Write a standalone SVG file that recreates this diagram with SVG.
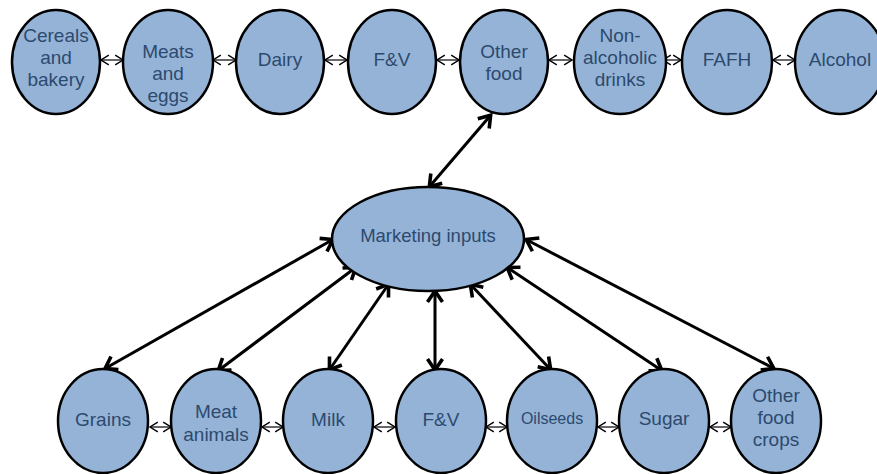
<svg xmlns="http://www.w3.org/2000/svg" width="877" height="474" viewBox="0 0 877 474">
<style>
.n{fill:#95b3d7;stroke:#000;stroke-width:2.5}
.t{font-family:"Liberation Sans",Arial,sans-serif;font-size:19px;fill:#2c4a6e;text-anchor:middle}
.big{stroke:#000;stroke-width:3;fill:none;marker-start:url(#ah);marker-end:url(#ah)}
.sm{stroke:#000;stroke-width:1.2;fill:none;marker-start:url(#as);marker-end:url(#as)}
</style>
<defs>
<marker id="ah" markerUnits="userSpaceOnUse" markerWidth="22" markerHeight="22" viewBox="-14 -11 16 22" refX="-1" refY="0" orient="auto-start-reverse">
<path d="M-11,-7.5 L0,0 L-11,7.5" fill="none" stroke="#000" stroke-width="3.6"/>
</marker>
<marker id="as" markerUnits="userSpaceOnUse" markerWidth="12" markerHeight="12" viewBox="-8 -5 9 10" refX="0" refY="0" orient="auto-start-reverse">
<path d="M-6.5,-4 L0,0 L-6.5,4" fill="none" stroke="#000" stroke-width="1.2"/>
</marker>
</defs>
<g id="connectors">
<line class="sm" x1="101" y1="60" x2="123" y2="60"/>
<line class="sm" x1="213" y1="60" x2="236" y2="60"/>
<line class="sm" x1="325" y1="60" x2="347" y2="60"/>
<line class="sm" x1="437" y1="60" x2="459" y2="60"/>
<line class="sm" x1="549" y1="60" x2="572" y2="60"/>
<line class="sm" x1="663" y1="60" x2="681" y2="60"/>
<line class="sm" x1="773" y1="60" x2="795" y2="60"/>
<line class="sm" x1="150" y1="427" x2="171" y2="427"/>
<line class="sm" x1="262" y1="427" x2="283" y2="427"/>
<line class="sm" x1="374" y1="427" x2="395" y2="427"/>
<line class="sm" x1="486" y1="427" x2="507" y2="427"/>
<line class="sm" x1="598" y1="427" x2="619" y2="427"/>
<line class="sm" x1="710" y1="427" x2="731" y2="427"/>
<line class="big" x1="490" y1="116" x2="430" y2="186"/>
<line class="big" x1="332" y1="240" x2="106" y2="368"/>
<line class="big" x1="355" y1="268" x2="219" y2="370"/>
<line class="big" x1="388" y1="285" x2="330" y2="369"/>
<line class="big" x1="435" y1="292" x2="435" y2="369"/>
<line class="big" x1="471" y1="285" x2="550" y2="369"/>
<line class="big" x1="508" y1="268" x2="661" y2="370"/>
<line class="big" x1="527" y1="240" x2="773" y2="368"/>
</g>
<g id="cereals"><ellipse class="n" cx="56" cy="62" rx="44" ry="52"/><text class="t" x="56" y="42">Cereals</text><text class="t" x="56" y="64">and</text><text class="t" x="56" y="86">bakery</text></g>
<g id="meats"><ellipse class="n" cx="168" cy="62" rx="45" ry="52"/><text class="t" x="168" y="58">Meats</text><text class="t" x="168" y="80">and</text><text class="t" x="168" y="102">eggs</text></g>
<g id="dairy"><ellipse class="n" cx="280" cy="62" rx="44" ry="52"/><text class="t" x="280" y="66">Dairy</text></g>
<g id="fv-top"><ellipse class="n" cx="392" cy="62" rx="44" ry="52"/><text class="t" x="392" y="66">F&amp;V</text></g>
<g id="otherfood"><ellipse class="n" cx="504" cy="62" rx="44" ry="52"/><text class="t" x="504" y="58">Other</text><text class="t" x="504" y="80">food</text></g>
<g id="nonalc"><ellipse class="n" cx="620" cy="62" rx="46" ry="52"/><text class="t" x="620" y="42">Non-</text><text class="t" x="620" y="64">alcoholic</text><text class="t" x="620" y="86">drinks</text></g>
<g id="fafh"><ellipse class="n" cx="727" cy="62" rx="45" ry="52"/><text class="t" x="727" y="66">FAFH</text></g>
<g id="alcohol"><ellipse class="n" cx="840" cy="62" rx="45" ry="52"/><text class="t" x="840" y="66">Alcohol</text></g>
<g id="marketing"><ellipse class="n" cx="428" cy="239" rx="96" ry="52"/><text class="t" x="428" y="242" style="font-size:18.5px">Marketing inputs</text></g>
<g id="grains"><ellipse class="n" cx="103" cy="421" rx="45" ry="52"/><text class="t" x="103" y="426">Grains</text></g>
<g id="meatanimals"><ellipse class="n" cx="216" cy="421" rx="45" ry="52"/><text class="t" x="216" y="418">Meat</text><text class="t" x="216" y="441">animals</text></g>
<g id="milk"><ellipse class="n" cx="328" cy="421" rx="45" ry="52"/><text class="t" x="328" y="426">Milk</text></g>
<g id="fv-bottom"><ellipse class="n" cx="441" cy="421" rx="45" ry="52"/><text class="t" x="441" y="426">F&amp;V</text></g>
<g id="oilseeds"><ellipse class="n" cx="552" cy="421" rx="45" ry="52"/><text class="t" x="552" y="424" style="font-size:16px">Oilseeds</text></g>
<g id="sugar"><ellipse class="n" cx="664" cy="421" rx="45" ry="52"/><text class="t" x="664" y="425">Sugar</text></g>
<g id="otherfoodcrops"><ellipse class="n" cx="776" cy="421" rx="45" ry="52"/><text class="t" x="776" y="402">Other</text><text class="t" x="776" y="424">food</text><text class="t" x="776" y="446">crops</text></g>
</svg>
